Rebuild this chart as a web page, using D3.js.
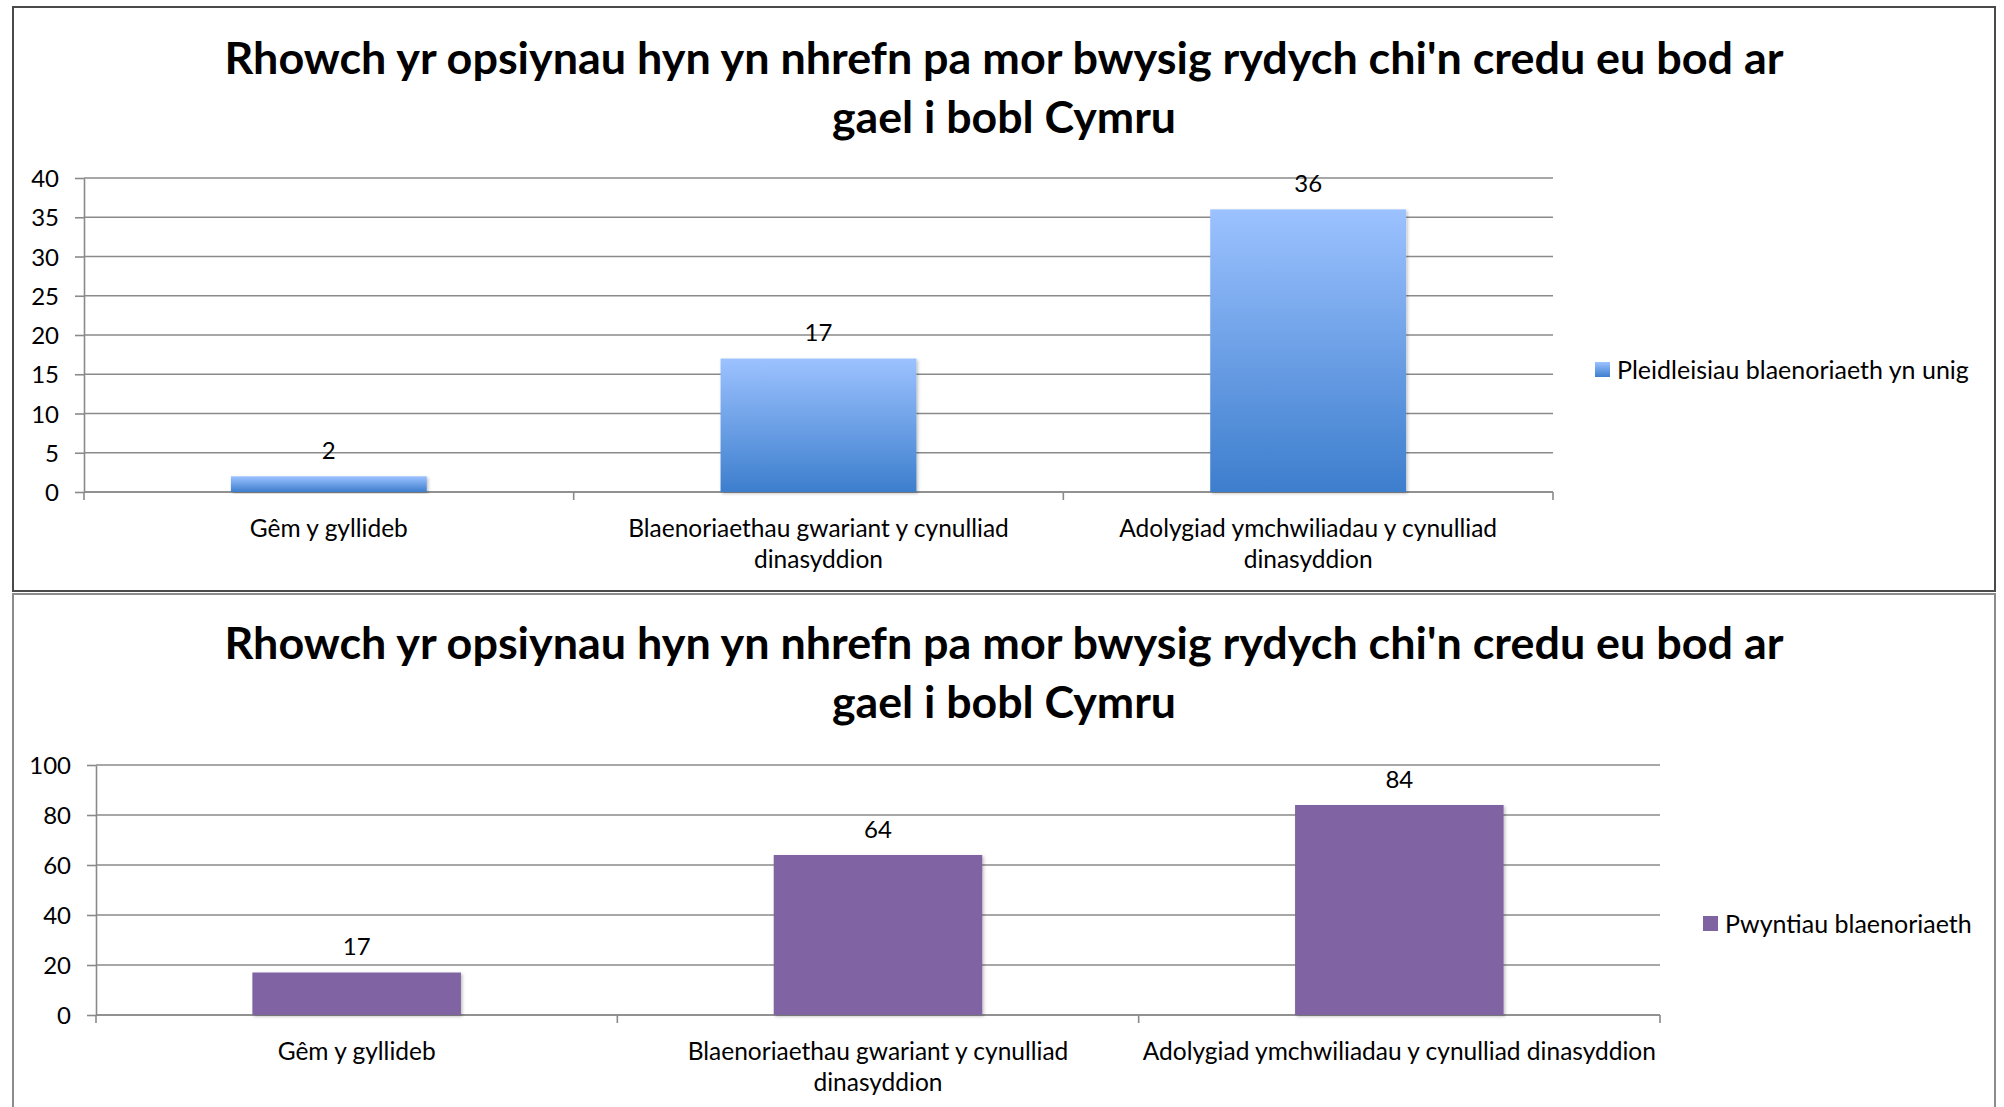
<!DOCTYPE html>
<head>
  <meta charset="utf-8">
  <title>Blaenoriaethau</title>
  <script src="https://cdn.jsdelivr.net/npm/d3@7"></script>
  <style>
    body { margin: 0; background: #fff; }
    text { font-family: "Lato", "Open Sans", sans-serif; fill: #000; }
    .grid line { stroke: #8a8a8a; stroke-width: 1.6; }
    .axis path, .axis line { stroke: #8a8a8a; stroke-width: 1.6; }
    .axis text { font-size: 24px; }
  </style>
</head>
<body>
<script>
  var categories = [
    "Gêm y gyllideb",
    "Blaenoriaethau gwariant y cynulliad dinasyddion",
    "Adolygiad ymchwiliadau y cynulliad dinasyddion"
  ];
  var titleLines = [
    "Rhowch yr opsiynau hyn yn nhrefn pa mor bwysig rydych chi'n credu eu bod ar",
    "gael i bobl Cymru"
  ];
  var votesName = "Pleidleisiau blaenoriaeth yn unig";
  var votesOnly = [2, 17, 36];
  var votesTicks = [0, 5, 10, 15, 20, 25, 30, 35, 40];

  var pointsName = "Pwyntiau blaenoriaeth";
  var priorityPoints = [17, 64, 84];
  var pointsTicks = [0, 20, 40, 60, 80, 100];

  var width = 2004, height = 1107;
  var svg = d3.select("body").append("svg")
      .attr("width", width)
      .attr("height", height);

  var defs = svg.append("defs");
  var grad = defs.append("linearGradient")
      .attr("id", "blueGrad")
      .attr("x1", 0).attr("y1", 0).attr("x2", 0).attr("y2", 1);
  grad.append("stop").attr("offset", "0%").attr("stop-color", "#9cc2ff");
  grad.append("stop").attr("offset", "100%").attr("stop-color", "#3d7ecd");

  // soft shadow under the bars
  var shadow = defs.append("filter").attr("id", "shadow")
      .attr("x", "-5%").attr("y", "-5%").attr("width", "115%").attr("height", "115%");
  shadow.append("feDropShadow")
      .attr("dx", 1.5).attr("dy", 1.5).attr("stdDeviation", 1.5)
      .attr("flood-color", "#000").attr("flood-opacity", 0.25);

  // panel frames
  svg.append("rect")
    .attr("x", 13).attr("y", 7).attr("width", 1982).attr("height", 584)
    .attr("fill", "#fff").attr("stroke", "#4a4a4a").attr("stroke-width", 2);
  svg.append("rect")
    .attr("x", 13).attr("y", 594).attr("width", 1982).attr("height", 600)
    .attr("fill", "#fff").attr("stroke", "#8c8c8c").attr("stroke-width", 2);

  drawPanel({
    values: votesOnly, ticks: votesTicks, name: votesName,
    fill: "url(#blueGrad)", swatch: "url(#blueGrad)",
    titleY: 59, left: 84, right: 1553, top: 178, bottom: 492,
    legendX: 1595, legendY: 370
  });

  drawPanel({
    values: priorityPoints, ticks: pointsTicks, name: pointsName,
    fill: "#8064a2", swatch: "#8064a2",
    titleY: 644, left: 96, right: 1660, top: 765, bottom: 1015,
    legendX: 1703, legendY: 924
  });

  function drawPanel(p) {
    var g = svg.append("g");

    // title
    titleLines.forEach(function (t, i) {
      var tx = g.append("text")
        .attr("x", 1004)
        .attr("y", p.titleY + i * 59)
        .attr("dy", "0.35em")
        .attr("text-anchor", "middle")
        .style("font-weight", "bold")
        .style("font-size", "43px")
        .text(t);
      tx.attr("textLength", i === 0 ? 1559 : 344).attr("lengthAdjust", "spacingAndGlyphs");
    });

    var y = d3.scaleLinear()
        .domain([0, d3.max(p.ticks)])
        .range([p.bottom, p.top]);
    var x = d3.scaleBand()
        .domain(categories)
        .range([p.left, p.right])
        .paddingInner(0.6)
        .paddingOuter(0.3);

    // gridlines
    g.append("g").attr("class", "grid")
      .selectAll("line")
      .data(p.ticks)
      .enter().append("line")
        .attr("x1", p.left).attr("x2", p.right)
        .attr("y1", function (d) { return y(d); })
        .attr("y2", function (d) { return y(d); });

    // y axis
    var yAxis = g.append("g").attr("class", "axis")
      .attr("transform", "translate(" + p.left + ",0)")
      .call(d3.axisLeft(y).tickValues(p.ticks).tickSize(9).tickPadding(16).tickSizeOuter(0));
    yAxis.selectAll("text").attr("dy", "0.36em");

    // x axis with ticks at category boundaries
    var step = x.step();
    var xa = g.append("g").attr("class", "axis");
    xa.append("line")
      .attr("x1", p.left).attr("x2", p.right)
      .attr("y1", p.bottom).attr("y2", p.bottom);
    xa.selectAll(".tk")
      .data(d3.range(categories.length + 1))
      .enter().append("line")
        .attr("x1", function (i) { return p.left + i * step; })
        .attr("x2", function (i) { return p.left + i * step; })
        .attr("y1", p.bottom).attr("y2", p.bottom + 8);

    // bars
    g.selectAll(".bar")
      .data(p.values)
      .enter().append("rect")
        .attr("x", function (d, i) { return x(categories[i]); })
        .attr("width", x.bandwidth())
        .attr("y", function (d) { return y(d); })
        .attr("height", function (d) { return p.bottom - y(d); })
        .attr("fill", p.fill)
        .attr("filter", "url(#shadow)");

    // value labels
    g.selectAll(".val")
      .data(p.values)
      .enter().append("text")
        .attr("x", function (d, i) { return x(categories[i]) + x.bandwidth() / 2; })
        .attr("y", function (d) { return y(d) - 26; })
        .attr("dy", "0.36em")
        .attr("text-anchor", "middle")
        .style("font-size", "24px")
        .text(function (d) { return d; });

    // category labels, wrapped to the band step
    var maxW = step - 8;
    categories.forEach(function (c, i) {
      var cx = x(c) + x.bandwidth() / 2;
      var t = g.append("text")
        .attr("text-anchor", "middle")
        .style("font-size", "24.5px");
      var words = c.split(" "), line = [], lineNo = 0;
      var ts = t.append("tspan").attr("x", cx).attr("y", p.bottom + 36).attr("dy", "0.36em");
      words.forEach(function (w) {
        line.push(w);
        ts.text(line.join(" "));
        if (ts.node().getComputedTextLength() > maxW && line.length > 1) {
          line.pop();
          ts.text(line.join(" "));
          line = [w];
          lineNo++;
          ts = t.append("tspan").attr("x", cx)
            .attr("y", p.bottom + 36 + lineNo * 31).attr("dy", "0.36em")
            .text(w);
        }
      });
    });

    // legend
    g.append("rect")
      .attr("x", p.legendX).attr("y", p.legendY - 8)
      .attr("width", 15).attr("height", 15)
      .attr("fill", p.swatch);
    g.append("text")
      .attr("x", p.legendX + 22).attr("y", p.legendY)
      .attr("dy", "0.36em")
      .style("font-size", "25px")
      .text(p.name);
  }
</script>
</body>
